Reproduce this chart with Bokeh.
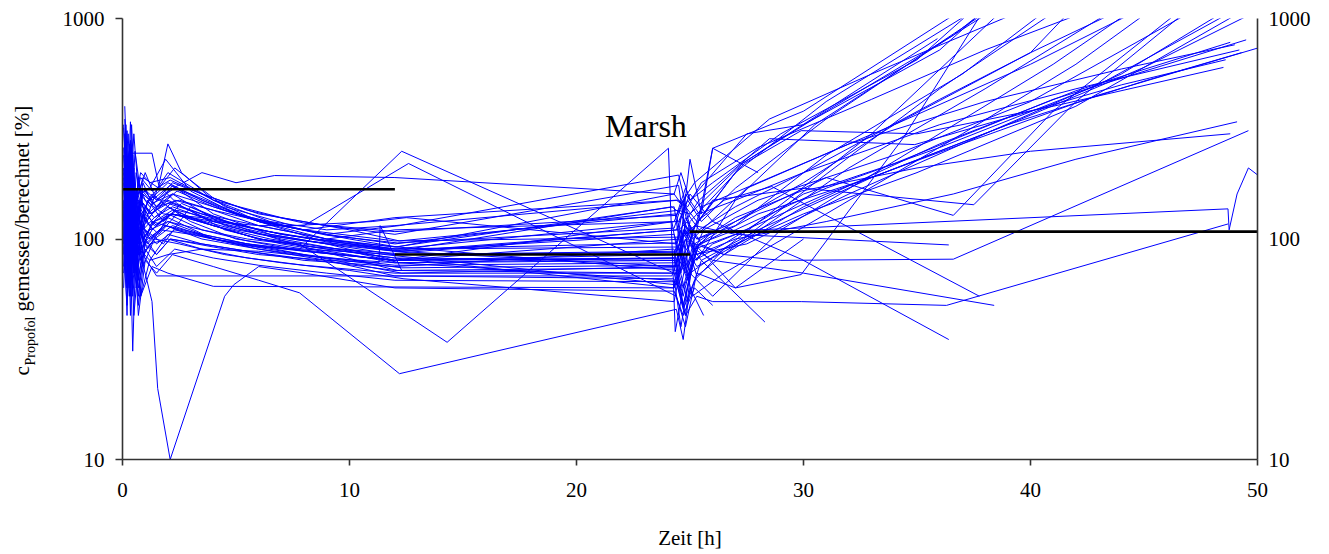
from bokeh.plotting import figure
from bokeh.layouts import row
from bokeh.models import Range1d, FixedTicker, LogAxis, Label
from bokeh.embed import file_html
from bokeh.resources import INLINE

# Measured / calculated propofol concentration (%) over time (h), one pair of lists per patient
p01 = ([0.05, 0.2, 0.35, 0.55, 0.8, 1.3, 2.2, 4.0, 6.5, 9.0, 12.0, 24.3, 24.7, 25.2, 27.0, 29.9, 34.4, 38.3],
       [180, 95, 260, 120, 150, 130, 175, 130, 105, 95, 80, 120, 150, 95, 60, 69, 288, 1250])
p02 = ([0.1, 0.25, 0.4, 0.6, 0.9, 1.5, 2.2, 4.5, 7.0, 10.0, 12.2, 24.2, 24.6, 25.1, 27.3, 31.0, 36.6, 39.5],
       [350, 110, 200, 90, 170, 140, 160, 115, 100, 88, 78, 65, 60, 110, 220, 380, 840, 1300])
p03 = ([0.05, 0.2, 0.3, 0.45, 0.6, 1.0, 1.8, 3.0, 5.5, 8.0, 12.1, 24.4, 24.8, 25.2, 26.5, 30.5, 36.0, 41.5],
       [120, 310, 80, 220, 130, 110, 95, 140, 110, 92, 72, 70, 45, 95, 85, 180, 480, 1150])
p04 = ([0.1, 0.3, 0.45, 0.65, 1.0, 2.0, 4.0, 6.5, 9.0, 12.0, 24.5, 24.9, 25.5, 28.0, 33.0, 38.0, 43.2],
       [240, 60, 170, 100, 140, 200, 150, 120, 110, 115, 150, 140, 180, 260, 430, 720, 1150])
p05 = ([0.05, 0.2, 0.35, 0.5, 0.8, 1.3, 2.5, 5.0, 8.0, 12.3, 24.3, 24.7, 25.3, 27.5, 32.0, 38.0, 44.0],
       [90, 200, 45, 160, 85, 120, 110, 95, 85, 70, 75, 95, 75, 100, 210, 480, 1150])
p06 = ([0.1, 0.25, 0.4, 0.55, 0.9, 1.6, 2.3, 4.5, 7.5, 11.0, 12.5, 24.4, 24.8, 25.4, 27.0, 30.0, 36.0, 40.0, 44.4],
       [400, 150, 260, 140, 190, 170, 210, 140, 115, 120, 125, 95, 160, 130, 150, 200, 430, 700, 1150])
p07 = ([0.05, 0.15, 0.3, 0.45, 0.7, 1.1, 2.0, 4.0, 6.0, 9.0, 12.0, 24.3, 24.6, 25.0, 26.0, 29.0, 35.0, 41.0, 44.8],
       [150, 70, 230, 55, 110, 90, 125, 100, 90, 80, 68, 66, 40, 70, 55, 110, 260, 620, 1150])
p08 = ([0.1, 0.3, 0.5, 0.7, 1.0, 1.5, 2.2, 3.5, 6.0, 9.0, 12.0, 24.5, 24.9, 25.5, 28.0, 34.0, 40.0, 45.2],
       [210, 130, 300, 160, 200, 150, 180, 160, 130, 115, 105, 175, 90, 140, 180, 330, 620, 1150])
p09 = ([0.05, 0.2, 0.4, 0.6, 0.9, 1.4, 2.5, 4.5, 7.0, 10.0, 12.4, 24.3, 24.7, 25.1, 26.5, 31.0, 37.0, 42.0, 45.6],
       [60, 140, 85, 120, 75, 100, 95, 85, 78, 72, 66, 52, 85, 55, 70, 130, 300, 620, 1150])
p10 = ([0.1, 0.25, 0.4, 0.6, 0.85, 1.3, 2.0, 3.0, 5.0, 8.0, 12.0, 24.4, 24.8, 25.3, 27.0, 31.0, 36.6, 41.0, 46.9],
       [280, 90, 180, 70, 130, 160, 140, 120, 100, 90, 85, 88, 115, 100, 120, 190, 128, 380, 1150])
p11 = ([0.05, 0.2, 0.35, 0.5, 0.7, 1.0, 1.8, 3.5, 6.0, 9.5, 12.0, 24.2, 24.6, 25.0, 26.0, 30.0, 37.5, 42.0, 47.2],
       [320, 140, 210, 100, 180, 150, 130, 125, 110, 95, 88, 140, 130, 105, 150, 170, 143, 420, 1150])
p12 = ([0.1, 0.3, 0.5, 0.7, 1.0, 1.6, 2.4, 4.0, 6.0, 8.5, 12.1, 24.5, 24.9, 25.6, 28.0, 34.0, 40.0, 47.6],
       [170, 250, 110, 190, 120, 140, 165, 140, 120, 100, 92, 72, 75, 110, 150, 240, 420, 1150])
p13 = ([0.05, 0.2, 0.3, 0.5, 0.75, 1.2, 2.0, 3.5, 5.5, 8.0, 12.0, 24.3, 24.7, 25.2, 27.5, 32.0, 38.0, 44.0, 49.0],
       [110, 60, 160, 45, 90, 80, 105, 95, 88, 80, 75, 90, 50, 85, 95, 160, 300, 560, 1150])
p14 = ([0.1, 0.25, 0.4, 0.55, 0.8, 1.2, 2.1, 4.0, 7.0, 10.0, 12.2, 24.4, 24.8, 25.4, 27.0, 31.0, 36.0, 43.0, 49.4],
       [230, 120, 330, 150, 200, 180, 190, 150, 125, 110, 98, 130, 75, 95, 110, 170, 260, 500, 1150])
p15 = ([0.05, 0.15, 0.3, 0.45, 0.65, 1.0, 1.7, 3.0, 5.0, 8.0, 12.0, 24.3, 24.6, 25.0, 26.5, 30.0, 35.0, 42.0, 49.8],
       [190, 80, 140, 60, 120, 95, 110, 105, 95, 88, 80, 85, 110, 70, 90, 130, 200, 400, 1150])
p16 = ([0.1, 0.3, 0.5, 0.7, 1.1, 1.8, 2.6, 4.5, 7.0, 10.0, 12.3, 24.5, 24.9, 25.5, 28.0, 33.0, 39.0, 45.0, 50.5],
       [260, 140, 190, 85, 150, 120, 145, 120, 105, 95, 88, 110, 120, 95, 130, 190, 330, 600, 1150])
p17 = ([0.05, 0.2, 0.35, 0.5, 0.8, 1.3, 2.0, 4.0, 6.0, 9.0, 12.0, 24.4, 24.8, 25.3, 27.0, 30.5, 36.6, 38.5],
       [140, 220, 90, 170, 110, 130, 150, 120, 105, 95, 85, 87, 110, 80, 150, 330, 840, 1200])
p18 = ([0.1, 0.3, 0.45, 0.6, 0.9, 1.4, 2.2, 4.0, 6.0, 9.0, 12.0, 24.3, 24.7, 25.2, 27.0, 31.0, 37.0, 43.0, 50.5],
       [130, 270, 100, 200, 140, 115, 130, 115, 100, 90, 82, 80, 55, 90, 105, 160, 270, 450, 760])
p19 = ([0.05, 0.2, 0.35, 0.55, 0.8, 1.2, 2.0, 3.5, 5.5, 8.0, 12.0, 24.4, 24.8, 25.3, 26.5, 30.0, 36.0, 42.0, 48.8],
       [75, 180, 60, 130, 95, 110, 120, 105, 95, 85, 76, 78, 100, 68, 85, 140, 270, 470, 780])
p20 = ([0.1, 0.25, 0.4, 0.6, 0.9, 1.5, 2.3, 4.5, 7.0, 10.0, 12.1, 24.3, 24.7, 25.1, 27.5, 32.0, 38.0, 44.0, 49.0],
       [300, 120, 240, 110, 170, 150, 170, 135, 115, 100, 92, 160, 140, 100, 170, 270, 420, 590, 760])
p21 = ([0.05, 0.15, 0.3, 0.5, 0.7, 1.1, 1.9, 3.5, 6.0, 9.0, 12.3, 24.5, 24.9, 25.5, 28.0, 33.0, 39.0, 45.0, 49.3],
       [100, 200, 70, 150, 85, 100, 115, 100, 90, 82, 74, 76, 52, 80, 110, 190, 330, 520, 700])
p22 = ([0.1, 0.3, 0.5, 0.7, 1.0, 1.6, 2.4, 4.0, 6.5, 9.5, 12.0, 24.4, 24.8, 25.4, 28.5, 34.9, 40.0, 44.0, 48.6],
       [190, 90, 150, 75, 120, 105, 130, 115, 100, 90, 84, 62, 120, 150, 285, 268, 380, 500, 650])
p23 = ([0.05, 0.2, 0.35, 0.5, 0.75, 1.2, 2.0, 3.0, 5.0, 8.0, 12.0, 24.2, 24.6, 25.0, 27.4, 29.9, 35.0, 41.0, 48.5],
       [210, 90, 170, 80, 140, 115, 140, 125, 110, 98, 90, 120, 70, 120, 220, 310, 300, 400, 600])
p24 = ([0.1, 0.3, 0.5, 0.7, 1.0, 1.5, 2.1, 3.5, 5.5, 8.5, 12.0, 24.3, 24.7, 25.2, 26.5, 30.0, 34.0, 41.0, 49.5],
       [150, 65, 120, 55, 100, 85, 100, 95, 88, 80, 72, 74, 50, 80, 95, 160, 220, 430, 800])
p25 = ([0.05, 0.2, 0.4, 0.6, 0.9, 1.3, 2.2, 4.0, 6.0, 9.0, 12.2, 24.5, 24.9, 25.4, 27.0, 30.0, 36.0, 42.0, 49.2],
       [330, 160, 230, 120, 180, 145, 160, 140, 120, 105, 115, 195, 130, 110, 140, 200, 330, 480, 720])
p26 = ([0.1, 0.3, 0.45, 0.6, 0.9, 1.4, 2.2, 4.0, 6.5, 9.0, 12.0, 24.4, 24.8, 25.3, 27.0, 31.0, 36.6, 42.0, 49.1],
       [120, 240, 90, 170, 110, 125, 140, 120, 105, 95, 88, 75, 115, 85, 100, 120, 160, 230, 340])
p27 = ([0.05, 0.2, 0.35, 0.5, 0.8, 1.3, 2.0, 3.5, 5.5, 8.0, 12.0, 24.3, 24.7, 25.2, 27.0, 29.9, 35.0, 40.0, 48.8],
       [95, 190, 65, 140, 90, 110, 130, 110, 98, 88, 80, 82, 60, 95, 125, 165, 210, 250, 300])
p28 = ([0.1, 0.25, 0.4, 0.55, 0.8, 1.2, 2.0, 4.0, 6.0, 9.0, 12.1, 24.5, 24.9, 25.4, 26.5, 29.0, 36.6, 49.6],
       [250, 100, 200, 85, 150, 130, 145, 125, 110, 98, 90, 92, 68, 95, 85, 80, 81, 310])
p29 = ([0.05, 0.2, 0.35, 0.5, 0.75, 1.1, 1.9, 3.5, 5.5, 8.5, 12.0, 24.3, 24.7, 25.2, 26.0, 28.0, 48.7, 48.75, 49.1, 49.6, 50.3],
       [170, 85, 130, 70, 110, 95, 115, 105, 95, 88, 80, 82, 105, 90, 108, 110, 137, 110, 160, 210, 185])
p30 = ([0.1, 0.3, 0.5, 0.7, 1.0, 1.5, 2.3, 4.0, 6.0, 9.0, 12.0, 24.4, 24.8, 25.3, 26.0, 29.9, 36.3, 48.7],
       [145, 60, 110, 50, 90, 75, 90, 82, 76, 70, 65, 64, 45, 55, 52, 52, 50, 117])
p31 = ([0.05, 0.2, 0.35, 0.5, 0.8, 1.2, 2.0, 3.5, 5.5, 8.0, 12.0, 24.4, 24.8, 25.3, 26.5, 28.6, 37.75],
       [200, 110, 280, 130, 170, 150, 180, 150, 125, 110, 125, 150, 140, 120, 150, 173, 55])
p32 = ([0.1, 0.25, 0.4, 0.6, 0.9, 1.4, 2.2, 4.0, 6.0, 9.0, 12.0, 24.3, 24.7, 25.2, 26.0, 30.0, 38.4],
       [115, 230, 80, 160, 100, 120, 130, 115, 100, 90, 82, 60, 110, 90, 80, 70, 50])
p33 = ([0.05, 0.15, 0.3, 0.45, 0.7, 1.1, 1.8, 3.5, 6.0, 9.0, 12.0, 24.5, 25.0, 26.0, 29.9, 36.4],
       [260, 120, 190, 90, 150, 130, 150, 130, 115, 100, 110, 120, 160, 120, 81, 35])
p34 = ([0.1, 0.3, 0.5, 0.7, 1.0, 1.5, 2.3, 4.0, 6.5, 9.5, 12.0, 24.6, 25.2, 27.0, 36.4],
       [180, 75, 140, 65, 110, 95, 110, 100, 92, 85, 80, 100, 115, 105, 94])
p35 = ([0.05, 0.2, 0.35, 0.5, 0.8, 1.2, 2.0, 3.5, 5.5, 8.0, 12.0, 24.4, 24.8, 25.5, 28.3],
       [70, 160, 55, 120, 80, 95, 100, 90, 82, 76, 70, 70, 100, 80, 42])
p36 = ([0.1, 0.25, 0.4, 0.6, 0.9, 1.3, 2.1, 4.0, 6.0, 9.0, 12.0, 24.5, 25.0, 27.3, 35.9],
       [300, 130, 220, 110, 170, 150, 175, 145, 120, 105, 95, 135, 130, 220, 810])
p37 = ([0.05, 0.2, 0.35, 0.5, 0.75, 1.2, 2.0, 3.5, 5.5, 8.5, 12.0, 24.4, 24.9, 25.5, 27.0, 31.0, 38.5],
       [135, 60, 175, 70, 120, 100, 120, 110, 100, 92, 86, 110, 150, 120, 170, 350, 1150])
p38 = ([0.1, 0.3, 0.45, 0.65, 1.0, 1.5, 2.4, 4.5, 7.0, 10.0, 12.1, 24.3, 24.8, 25.3, 26.0, 30.0, 37.0],
       [220, 100, 170, 80, 130, 115, 135, 120, 105, 95, 88, 105, 70, 110, 258, 380, 1100])
p39 = ([0.1, 0.3, 0.5, 0.7, 1.0, 1.5, 2.1, 4.0, 6.0, 9.0, 11.3, 11.35, 12.3],
       [160, 75, 120, 60, 95, 85, 100, 92, 85, 80, 78, 115, 72])
p40 = ([0.05, 0.2, 0.4, 0.6, 0.9, 1.4, 2.2, 4.0, 6.0, 7.8, 14.3, 24.05, 24.35, 24.7, 25.2, 26.0, 27.5],
       [110, 200, 80, 150, 100, 120, 135, 115, 100, 95, 34, 258, 38, 60, 80, 95, 110])
p41 = ([0.05, 0.2, 0.35, 0.6, 1.0, 1.3, 1.55, 2.1, 4.5, 4.9, 6.0, 8.0, 12.0, 24.3, 24.7, 25.2, 26.0],
       [140, 70, 180, 95, 70, 52, 21, 10, 55, 62, 75, 70, 60, 58, 45, 60, 50])
p42 = ([0.1, 0.3, 1.3, 1.6, 2.0, 2.6, 4.0, 6.0, 9.0, 12.0, 24.4, 24.8, 25.3, 27.0, 31.0, 37.0, 41.0],
       [160, 245, 245, 175, 270, 200, 150, 120, 100, 90, 96, 125, 100, 115, 240, 560, 1150])
p43 = ([0.05, 0.2, 0.4, 0.6, 0.9, 1.4, 2.2, 4.0, 6.0, 7.8, 12.3, 24.3, 24.7, 25.2, 26.5, 33.0, 39.0],
       [95, 170, 70, 130, 85, 100, 115, 100, 92, 90, 250, 70, 48, 65, 90, 300, 1150])
p44 = ([0.1, 0.25, 0.4, 0.6, 0.9, 1.3, 2.1, 4.0, 6.0, 8.0, 12.6, 24.4, 24.8, 25.3, 27.0, 30.0],
       [200, 90, 160, 75, 130, 110, 130, 120, 115, 115, 220, 55, 40, 70, 60, 100])
p45 = ([0.1, 0.3, 0.5, 0.7, 1.0, 1.5, 2.2, 4.0, 6.0, 7.8, 12.2, 24.4, 24.7, 25.0, 25.6],
       [130, 55, 100, 45, 80, 70, 85, 75, 65, 57, 24.5, 48, 35, 60, 45])
p46 = ([0.05, 0.2, 0.35, 0.5, 0.8, 1.2, 2.0, 3.5, 5.0, 6.7, 12.0, 24.3, 24.6, 25.0, 26.0, 29.0, 35.0, 37.7],
       [210, 120, 180, 100, 160, 140, 165, 200, 180, 194, 190, 160, 200, 150, 180, 300, 650, 1150])
p47 = ([0.05, 0.2, 0.4, 0.6, 0.9, 1.5, 24.2, 24.6, 25.0],
       [90, 50, 120, 60, 85, 68, 68, 90, 70])
p48 = ([0.1, 0.3, 0.5, 0.8, 1.3, 2.0, 4.0, 24.3, 24.7],
       [150, 70, 110, 55, 75, 70, 61, 60, 80])
p49 = ([0.05, 0.15, 0.3, 0.45, 0.6, 0.9, 1.5, 2.5, 4.0, 6.0, 9.0, 12.0, 24.3, 24.7, 25.2, 27.0, 31.0, 37.9],
       [85, 330, 110, 240, 95, 160, 140, 150, 135, 115, 100, 92, 140, 75, 115, 200, 420, 1150])
p50 = ([0.1, 0.2, 0.35, 0.5, 0.7, 1.0, 1.6, 2.4, 4.5, 7.0, 10.0, 12.0, 24.4, 24.8, 25.3],
       [230, 100, 190, 75, 140, 120, 175, 145, 110, 95, 85, 78, 80, 110, 90])
p51 = ([0.05, 0.2, 0.3, 0.45, 0.6, 0.8, 1.2, 2.0, 3.5, 6.0, 9.0, 12.0, 24.5, 24.9, 25.4, 27.0, 30.0, 34.0, 40.0, 42.0],
       [130, 45, 150, 31, 100, 55, 80, 85, 90, 88, 82, 78, 82, 65, 95, 120, 180, 330, 700, 1150])
p52 = ([0.1, 0.25, 0.4, 0.55, 0.8, 1.2, 1.9, 3.0, 5.0, 8.0, 12.0, 24.6, 25.0, 25.5, 26.0, 28.0],
       [190, 300, 120, 250, 160, 170, 230, 165, 130, 110, 98, 102, 230, 130, 258, 200])
p53 = ([0.05, 0.2, 0.35, 0.5, 0.8, 1.3, 2.1, 3.5, 5.5, 8.0, 12.0, 24.4, 24.8, 25.0, 27.5, 30.0, 36.0, 38.2],
       [240, 120, 340, 150, 190, 165, 185, 160, 135, 118, 108, 128, 170, 150, 300, 330, 720, 1150])
p54 = ([0.1, 0.3, 0.5, 0.7, 1.0, 1.4, 2.3, 4.0, 6.5, 9.0, 12.1, 24.3, 24.7, 25.2, 28.5, 33.0, 40.2],
       [165, 85, 210, 95, 140, 125, 150, 135, 118, 104, 96, 112, 150, 180, 350, 560, 1150])

patients = [p01, p02, p03, p04, p05, p06, p07, p08, p09, p10, p11, p12, p13,
            p14, p15, p16, p17, p18, p19, p20, p21, p22, p23, p24, p25, p26,
            p27, p28, p29, p30, p31, p32, p33, p34, p35, p36, p37, p38, p39,
            p40, p41, p42, p43, p44, p45, p46, p47, p48, p49, p50, p51, p52,
            p53, p54]

# Median per phase
median_from = [0.0, 12.0, 24.98]
median_to = [12.0, 25.0, 50.0]
median_value = [168, 85, 108]

x_ticks = [0, 10, 20, 30, 40, 50]
y_ticks = [10, 100, 1000]
y_tick_labels = ["10", "100", "1000"]

FONT = '"Liberation Serif"'
AXIS_COLOR = "#333333"
TOTAL_W, TOTAL_H = 1329, 554
TITLE_W = 50          # strip on the left holding the rotated y title
BORDER_TOP, BORDER_BOTTOM = 18, 95

p = figure(width=TOTAL_W - TITLE_W, height=TOTAL_H, title=None, y_axis_type="log",
           x_range=Range1d(0, 50), y_range=Range1d(10, 1000),
           output_backend="svg", toolbar_location=None,
           min_border_left=122 - TITLE_W, min_border_right=72,
           min_border_top=BORDER_TOP, min_border_bottom=BORDER_BOTTOM)
p.outline_line_color = None
p.grid.visible = False
p.background_fill_color = "white"
p.border_fill_color = "white"

p.multi_line(xs=[pt[0] for pt in patients], ys=[pt[1] for pt in patients],
             line_color="#0000FF", line_width=1, line_join="round")
p.segment(x0=median_from, y0=median_value, x1=median_to, y1=median_value,
          line_color="black", line_width=2.6)


def style_axis(ax):
    ax.axis_line_color = AXIS_COLOR
    ax.axis_line_width = 1.6
    ax.major_tick_line_color = AXIS_COLOR
    ax.major_tick_line_width = 1.6
    ax.minor_tick_line_color = None
    ax.major_tick_in = 0
    ax.major_label_text_font = FONT
    ax.major_label_text_font_size = "21px"
    ax.major_label_text_color = "black"


xa = p.xaxis[0]
style_axis(xa)
xa.ticker = FixedTicker(ticks=x_ticks)
xa.major_tick_out = 6
xa.major_label_standoff = 17
xa.axis_label = "Zeit [h]"
xa.axis_label_text_font = FONT
xa.axis_label_text_font_size = "21px"
xa.axis_label_text_font_style = "normal"
xa.axis_label_text_color = "black"
xa.axis_label_standoff = 26

ya = p.yaxis[0]
style_axis(ya)
ya.ticker = FixedTicker(ticks=y_ticks)
ya.major_label_overrides = dict(zip(y_ticks, y_tick_labels))
ya.major_tick_out = 7
ya.major_label_standoff = 11

yr = LogAxis(ticker=FixedTicker(ticks=y_ticks))
style_axis(yr)
yr.major_label_overrides = dict(zip(y_ticks, y_tick_labels))
yr.major_tick_out = 0
yr.major_label_standoff = 11
p.add_layout(yr, "right")

p.add_layout(Label(x=23.06, y=327, text="Marsh", text_font=FONT,
                   text_font_size="32px", text_color="black",
                   text_align="center", text_baseline="alphabetic"))

# Left strip; its frame lines up with the main frame, so the y range is chosen
# to make one unit equal one pixel measured from the bottom of the page
t = figure(width=TITLE_W, height=TOTAL_H, title=None,
           x_range=Range1d(0, TITLE_W),
           y_range=Range1d(BORDER_BOTTOM, TOTAL_H - BORDER_TOP),
           x_axis_location=None, y_axis_location=None,
           output_backend="svg", toolbar_location=None,
           min_border_left=0, min_border_right=0,
           min_border_top=BORDER_TOP, min_border_bottom=BORDER_BOTTOM)
t.outline_line_color = None
t.grid.visible = False
t.background_fill_color = "white"
t.border_fill_color = "white"

label_style = dict(angle=1.5707963, text_font=FONT, text_color="black",
                   text_align="left", text_baseline="alphabetic")
t.add_layout(Label(x=21, y=179, text="c", text_font_size="21px", **label_style))
t.add_layout(Label(x=29.5, y=189, text="Propofol", text_font_size="14px", **label_style))
t.add_layout(Label(x=21, y=243, text="gemessen/berechnet [%]",
                   text_font_size="21px", **label_style))

open("out.html", "w").write(file_html(row(t, p), INLINE))
